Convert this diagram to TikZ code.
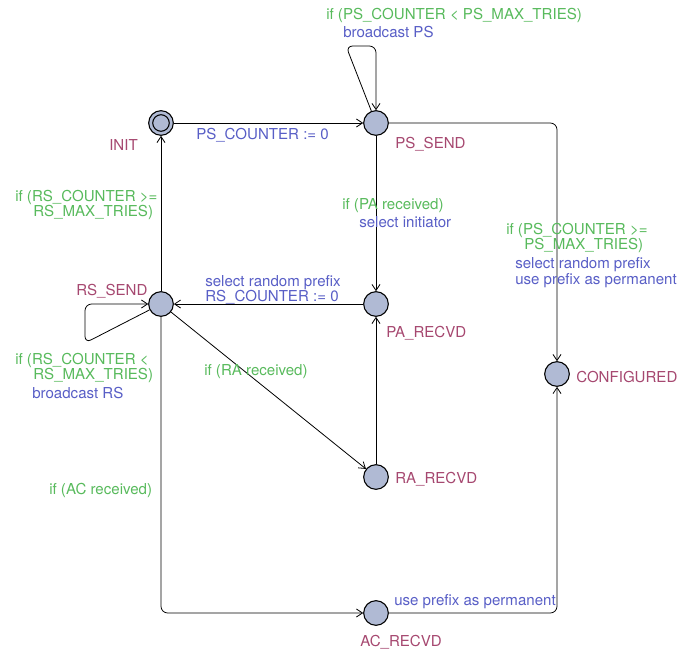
\documentclass[tikz,border=0pt]{standalone}
\usepackage{fontspec}
\setmainfont{TeX Gyre Heros}
\usetikzlibrary{arrows.meta}

\definecolor{statefill}{RGB}{176,186,212}
\definecolor{guardgreen}{RGB}{88,186,92}
\definecolor{updateblue}{RGB}{88,94,198}
\definecolor{locmaroon}{RGB}{166,72,112}

\begin{document}
\begin{tikzpicture}[x=0.75pt, y=-0.75pt,
  every node/.style={font=\fontsize{11.3}{11.4}\selectfont},
  state/.style={circle, draw, fill=statefill, minimum size=18.5pt, inner sep=0pt, line width=0.8pt},
  locname/.style={text=locmaroon, anchor=west, inner sep=0pt, yshift=-1.6pt},
  guard/.style={text=guardgreen, anchor=west, inner sep=0pt, align=left, yshift=-1.6pt},
  update/.style={text=updateblue, anchor=west, inner sep=0pt, align=left, yshift=-1.6pt},
  edge/.style={draw, line width=0.6pt, -{Straight Barb[length=4.5pt, width=6pt]}, rounded corners=5pt}]
\useasboundingbox (0,0) rectangle (694,654);

% locations
\node[state] (init) at (161,123) {};
\draw[line width=0.8pt] (init.center) circle[radius=6.2pt];
\node[state] (ps) at (376,123) {};
\node[state] (rs) at (161,304) {};
\node[state] (pa) at (376,304) {};
\node[state] (ra) at (376,477) {};
\node[state] (conf) at (557,374) {};
\node[state] (ac) at (376,613) {};

\node[locname] (initname) at (109,143) {INIT};
\node[locname] (psname) at (395,142) {PS\_SEND};
\node[locname] (rsname) at (76,289) {RS\_SEND};
\node[locname] (paname) at (386,331) {PA\_RECVD};
\node[locname] (raname) at (395,477) {RA\_RECVD};
\node[locname] (confname) at (576,375) {CONFIGURED};
\node[locname] (acname) at (360,640) {AC\_RECVD};

% bend points
\coordinate (psloopA) at (346,46);
\coordinate (psloopB) at (376,46);
\coordinate (rsloopA) at (85,343);
\coordinate (rsloopB) at (85,304);
\coordinate (psconf) at (557,123);
\coordinate (rsac) at (161,613);
\coordinate (acconf) at (557,613);

% transitions
\draw[edge] (init) -- (ps);
\draw[edge] (ps) -- (psloopA) -- (psloopB) -- (ps);
\draw[edge] (ps) -- (psconf) -- (conf);
\draw[edge] (ps) -- (pa);
\draw[edge] (pa) -- (rs);
\draw[edge] (rs) -- (init);
\draw[edge] (rs) -- (rsloopA) -- (rsloopB) -- (rs);
\draw[edge] (rs) -- (ra);
\draw[edge] (ra) -- (pa);
\draw[edge] (rs) -- (rsac) -- (ac);
\draw[edge] (ac) -- (acconf) -- (conf);

% guards and updates
\node[update] (initps) at (196,133) {PS\_COUNTER := 0};
\node[guard] (psloopg) at (326,13) {if (PS\_COUNTER < PS\_MAX\_TRIES)};
\node[update] (psloopu) at (343,30) {broadcast PS};
\node[guard] (papg) at (342,203) {if (PA received)};
\node[update] (papu) at (359,220) {select initiator};
\node[update] (parsu) at (205,287.5) {select random prefix\\RS\_COUNTER := 0};
\node[guard] (rsinitg) at (15,202.5) {if (RS\_COUNTER >=\\\hspace*{1.2em}RS\_MAX\_TRIES)};
\node[guard] (rsloopg) at (15,365.5) {if (RS\_COUNTER <\\\hspace*{1.2em}RS\_MAX\_TRIES)};
\node[update] (rsloopu) at (32,391) {broadcast RS};
\node[guard] (rsrag) at (204,369) {if (RA received)};
\node[guard] (rsacg) at (49,488) {if (AC received)};
\node[guard] (psconfg) at (506,235.5) {if (PS\_COUNTER >=\\\hspace*{1.2em}PS\_MAX\_TRIES)};
\node[update] (psconfu) at (515,270.5) {select random prefix\\use prefix as permanent};
\node[update] (acconfu) at (394,599) {use prefix as permanent};
\end{tikzpicture}
\end{document}
